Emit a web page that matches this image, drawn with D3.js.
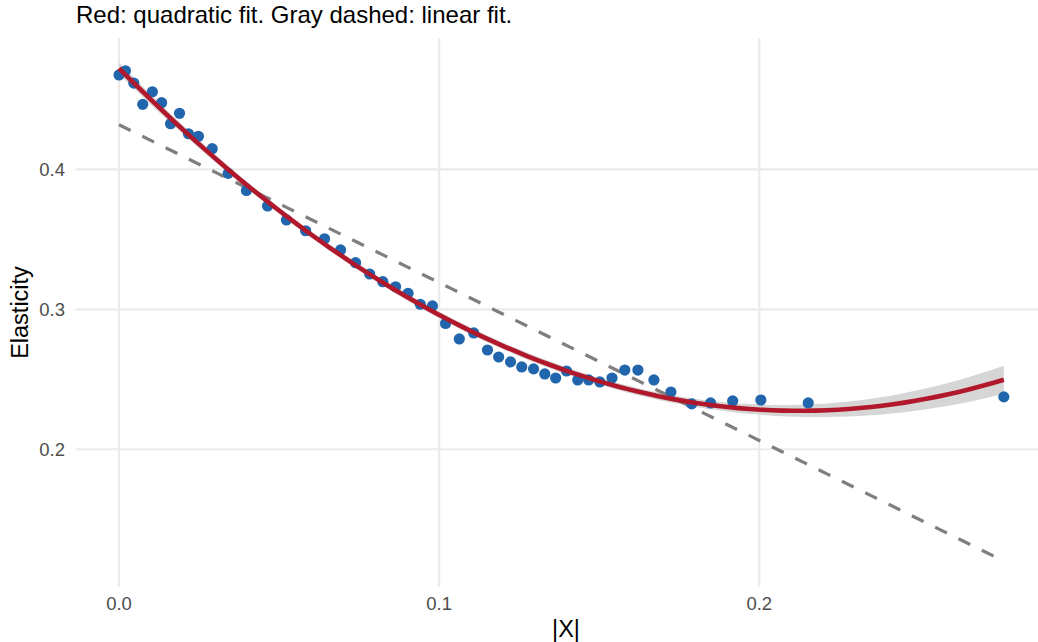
<!DOCTYPE html>
<html><head><meta charset="utf-8">
<script src="https://cdn.jsdelivr.net/npm/d3@7"></script>
<style>body{margin:0;background:#fff;} svg{display:block;font-family:"Liberation Sans",Arial,sans-serif;}</style>
</head><body>
<svg id="c" width="1038" height="642"></svg>
<script>
const absX = [0,0.0020,0.0046,0.0074,0.0104,0.0133,0.0161,0.0189,0.0217,0.0248,
  0.0291,0.0341,0.0398,0.0464,0.0523,0.0583,0.0642,0.0692,0.0739,0.0783,
  0.0824,0.0864,0.0903,0.0941,0.0979,0.1020,0.1063,0.1108,0.1151,0.1186,
  0.1223,0.1258,0.1295,0.1330,0.1364,0.1398,0.1433,0.1467,0.1502,0.1540,
  0.1580,0.1621,0.1671,0.1724,0.1789,0.1848,0.1917,0.2005,0.2153,0.2764];
const elasticity = [0.4674,0.4704,0.4616,0.4464,0.4554,0.4476,0.4326,0.4400,0.4254,0.4236,
  0.4147,0.3971,0.3849,0.3738,0.3638,0.3561,0.3504,0.3424,0.3333,0.3252,
  0.3197,0.3161,0.3114,0.3036,0.3024,0.2899,0.2788,0.2831,0.2709,0.2659,
  0.2624,0.2588,0.2574,0.2538,0.2509,0.2559,0.2495,0.2495,0.2481,0.2509,
  0.2566,0.2566,0.2495,0.2409,0.2324,0.2331,0.2345,0.2352,0.2331,0.2374];
const xTicks = [0.0, 0.1, 0.2];
const yTicks = [0.2, 0.3, 0.4];
const subtitle = "Red: quadratic fit. Gray dashed: linear fit.";
const xTitle = "|X|";
const yTitle = "Elasticity";

const svg = d3.select("#c");
const L = 75.5, R = 1048, T = 38, B = 587;
const x = d3.scaleLinear().domain([-0.0136, 0.2902]).range([L, R]);
const y = d3.scaleLinear().domain([0.1016, 0.4938]).range([B, T]);

// regression helpers
function solve(A, b) {
  const n = b.length, M = A.map((r, i) => [...r, b[i]]);
  for (let i = 0; i < n; i++) {
    let p = i; for (let k = i + 1; k < n; k++) if (Math.abs(M[k][i]) > Math.abs(M[p][i])) p = k;
    [M[i], M[p]] = [M[p], M[i]];
    for (let k = 0; k < n; k++) if (k !== i) { const f = M[k][i] / M[i][i]; for (let j = i; j <= n; j++) M[k][j] -= f * M[i][j]; }
  }
  return M.map((r, i) => r[n] / r[i]);
}
function inv(A) { const n = A.length; const cols = []; for (let j = 0; j < n; j++) { const e = Array(n).fill(0); e[j] = 1; cols.push(solve(A, e)); } return A.map((_, i) => cols.map(c => c[i])); }
function fit(deg) {
  const X = absX.map(v => d3.range(deg + 1).map(p => Math.pow(v, p)));
  const p = deg + 1;
  const XtX = d3.range(p).map(i => d3.range(p).map(j => d3.sum(X, r => r[i] * r[j])));
  const Xty = d3.range(p).map(i => d3.sum(X, (r, k) => r[i] * elasticity[k]));
  const beta = solve(XtX, Xty);
  const res = X.map((r, k) => elasticity[k] - d3.sum(r, (v, i) => v * beta[i]));
  const s2 = d3.sum(res, e => e * e) / (absX.length - p);
  return { beta, XtXi: inv(XtX), s2, deg };
}
function predict(f, v) {
  const r = d3.range(f.deg + 1).map(p => Math.pow(v, p));
  const m = d3.sum(r, (a, i) => a * f.beta[i]);
  let q = 0; for (let i = 0; i < r.length; i++) for (let j = 0; j < r.length; j++) q += r[i] * f.XtXi[i][j] * r[j];
  return { m, se: Math.sqrt(f.s2 * q) };
}
const lin = fit(1), quad = fit(2);
const tq = 2.0117;
const xs = d3.range(0, 81).map(i => d3.min(absX) + (d3.max(absX) - d3.min(absX)) * i / 80);
const qPred = xs.map(v => ({ v, ...predict(quad, v) }));
const lPred = xs.map(v => ({ v, ...predict(lin, v) }));

// grid
const g = svg.append("g");
g.selectAll(".gx").data(xTicks).join("line").attr("x1", d => x(d)).attr("x2", d => x(d)).attr("y1", T).attr("y2", B)
  .attr("stroke", "#ebebeb").attr("stroke-width", 2.2);
g.selectAll(".gy").data(yTicks).join("line").attr("y1", d => y(d)).attr("y2", d => y(d)).attr("x1", L).attr("x2", R)
  .attr("stroke", "#ebebeb").attr("stroke-width", 2.2);

// ribbon
svg.append("path").datum(qPred).attr("fill", "#d6d6d6")
  .attr("d", d3.area().x(d => x(d.v)).y0(d => y(d.m - tq * d.se)).y1(d => y(d.m + tq * d.se)));
// linear dashed
svg.append("path").datum(lPred).attr("fill", "none").attr("stroke", "#7f7f7f").attr("stroke-width", 3.2)
  .attr("stroke-dasharray", "13,13").attr("d", d3.line().x(d => x(d.v)).y(d => y(d.m)));
// points
svg.selectAll("circle").data(absX).join("circle").attr("cx", d => x(d)).attr("cy", (d, i) => y(elasticity[i]))
  .attr("r", 5.6).attr("fill", "#2166ac");
// quadratic
svg.append("path").datum(qPred).attr("fill", "none").attr("stroke", "#b2182b").attr("stroke-width", 4.6)
  .attr("d", d3.line().x(d => x(d.v)).y(d => y(d.m)));

// tick labels
svg.selectAll(".xt").data(xTicks).join("text").attr("x", d => x(d)).attr("y", 610).attr("text-anchor", "middle")
  .attr("font-size", 18.5).attr("fill", "#4d4d4d").text(d => d3.format(".1f")(d));
svg.selectAll(".yt").data(yTicks).join("text").attr("x", 65).attr("y", d => y(d) + 6.6).attr("text-anchor", "end")
  .attr("font-size", 18.5).attr("fill", "#4d4d4d").text(d => d3.format(".1f")(d));

// titles
svg.append("text").attr("x", 76).attr("y", 23).attr("font-size", 24).attr("fill", "#000").text(subtitle);
svg.append("text").attr("x", 566).attr("y", 637).attr("text-anchor", "middle").attr("font-size", 23.5).attr("fill", "#000").text(xTitle);
svg.append("text").attr("transform", "translate(28,312.5) rotate(-90)").attr("text-anchor", "middle").attr("font-size", 23.5).attr("fill", "#000").text(yTitle);
</script>
</body></html>
